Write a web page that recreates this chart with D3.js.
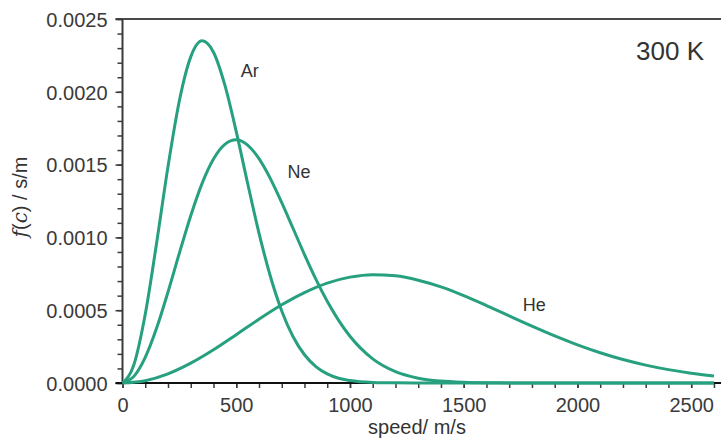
<!DOCTYPE html>
<html lang="en">
<head>
<meta charset="UTF-8">
<title>Maxwell-Boltzmann 300 K</title>
<style>
  body { margin: 0; background: #fff; }
  text { font-family: "Liberation Sans", Arial, Helvetica, sans-serif; fill: #333; }
</style>
</head>
<body>
<div id="chart"></div>
<script src="https://d3js.org/d3.v7.min.js"></script>
<script>
    // values (f(c) in s/m)
    var arSpeed = [0,50,100,150,200,250,300,350,400,450,500,550,600,650,700,750,800,850,900,950,1000,1100,1200,1400,1800,2200,2600];
    var arF = [0,0.000125,0.000472,0.000962,0.001486,0.001939,0.002240,0.002350,0.002272,0.002046,0.001727,0.001372,0.001030,0.000733,0.000495,0.000318,0.000194,0.000113,0.000063,0.000033,0.000017,0.000004,0.000001,0,0,0,0];

    var neSpeed = [0,50,100,150,200,250,300,350,400,450,500,550,600,650,700,750,800,850,900,950,1000,1100,1200,1300,1400,1500,1600,1800,2200,2600];
    var neF = [0,0.0000455,0.000176,0.000377,0.000625,0.000892,0.001149,0.001371,0.001538,0.001639,0.001670,0.001634,0.001541,0.001404,0.001239,0.001061,0.000882,0.000713,0.000561,0.000430,0.000321,0.000166,0.000078,0.000033,0.000013,0.0000046,0.0000015,0,0,0];

    var heSpeed = [0,100,200,300,400,500,600,700,800,900,1000,1100,1200,1300,1400,1500,1600,1700,1800,1900,2000,2100,2200,2300,2400,2500,2600];
    var heF = [0,0.0000161,0.0000629,0.000136,0.000228,0.000332,0.000438,0.000537,0.000621,0.000686,0.000727,0.000744,0.000736,0.000706,0.000660,0.000600,0.000532,0.000461,0.000390,0.000323,0.000262,0.000208,0.000161,0.000123,0.0000918,0.0000672,0.0000483];

    var gasNames = ["Ar", "Ne", "He"];
    var labelAt = [[520, 0.00210], [725, 0.00141], [1760, 0.000495]];
    var xTicks = [0, 500, 1000, 1500, 2000, 2500];
    var yTicks = [0, 0.0005, 0.0010, 0.0015, 0.0020, 0.0025];
    var tempLabel = "300 K";
</script>
<script>
    let W = 721, H = 441;
    let margin = {top: 19, left: 122.5, bottom: 58};
    let green = "#27a07f", axisCol = "#3a3a3a";

    var svg = d3.select("#chart").append("svg")
        .attr("width", W).attr("height", H);

    var x = d3.scaleLinear().domain([0, 2631]).range([margin.left, W]);
    var y = d3.scaleLinear().domain([0, 0.0025]).range([H - margin.bottom, margin.top]);

    // top frame line
    svg.append("line")
        .attr("x1", margin.left - 7).attr("x2", W)
        .attr("y1", y(0.0025)).attr("y2", y(0.0025))
        .attr("stroke", "#4a4a4a").attr("stroke-width", 2);

    // minor ticks
    var yMinor = d3.range(0, 26).map(function(i) {return i * 0.0001;});
    var xMinor = d3.range(0, 27).map(function(i) {return i * 100;});

    svg.append("g").attr("transform", "translate(" + margin.left + ",0)")
        .call(d3.axisLeft(y).tickValues(yMinor).tickSize(5).tickFormat(""))
        .call(function(g) {g.select(".domain").remove();})
        .selectAll("line").attr("stroke", axisCol).attr("stroke-width", 1.5);

    svg.append("g").attr("transform", "translate(0," + y(0) + ")")
        .call(d3.axisBottom(x).tickValues(xMinor).tickSize(5).tickFormat(""))
        .call(function(g) {g.select(".domain").remove();})
        .selectAll("line").attr("stroke", axisCol).attr("stroke-width", 1.5);

    // Y axis
    var yAxis = svg.append("g").attr("transform", "translate(" + margin.left + ",0)")
        .call(d3.axisLeft(y).tickValues(yTicks).tickSize(7).tickPadding(8).tickFormat(d3.format(".4f")));
    yAxis.select(".domain").remove();
    yAxis.selectAll("line").attr("stroke", axisCol).attr("stroke-width", 1.5);
    yAxis.selectAll("text").style("font-size", "20px").style("fill", "#3a3a3a").attr("dy", "0.36em");
    svg.append("line")
        .attr("x1", margin.left).attr("x2", margin.left)
        .attr("y1", y(0.0025)).attr("y2", y(0) + 1)
        .attr("stroke", axisCol).attr("stroke-width", 2);

    // X axis
    var xAxis = svg.append("g").attr("transform", "translate(0," + y(0) + ")")
        .call(d3.axisBottom(x).tickValues(xTicks).tickSize(5).tickPadding(10).tickFormat(d3.format("d")));
    xAxis.select(".domain").remove();
    xAxis.selectAll("line").attr("stroke", axisCol).attr("stroke-width", 1.5);
    xAxis.selectAll("text").style("font-size", "20px").style("fill", "#3a3a3a");
    svg.append("line")
        .attr("x1", margin.left - 7).attr("x2", W)
        .attr("y1", y(0)).attr("y2", y(0))
        .attr("stroke", "#111").attr("stroke-width", 2);

    // curves
    var series = [
        arSpeed.map(function(s, i) {return {c: s, f: arF[i]};}),
        neSpeed.map(function(s, i) {return {c: s, f: neF[i]};}),
        heSpeed.map(function(s, i) {return {c: s, f: heF[i]};})
    ];
    var line = d3.line()
        .x(function(d) {return x(d.c);})
        .y(function(d) {return y(d.f);})
        .curve(d3.curveMonotoneX);

    svg.append("g").selectAll("path").data(series).enter()
        .append("path")
        .attr("d", line)
        .attr("fill", "none")
        .attr("stroke", green)
        .attr("stroke-width", 3)
        .attr("stroke-linejoin", "round");

    // gas labels
    svg.append("g").selectAll("text").data(gasNames).enter()
        .append("text")
        .attr("x", function(d, i) {return x(labelAt[i][0]);})
        .attr("y", function(d, i) {return y(labelAt[i][1]);})
        .style("font-size", "18px")
        .text(function(d) {return d;});

    svg.append("text").attr("x", 704).attr("y", 60)
        .attr("text-anchor", "end")
        .style("font-size", "26px")
        .text(tempLabel);

    // axis titles
    svg.append("text").attr("x", 417).attr("y", 434)
        .attr("text-anchor", "middle")
        .style("font-size", "20px")
        .text("speed/ m/s");

    var yl = svg.append("text")
        .attr("transform", "translate(27,197) rotate(-90)")
        .attr("text-anchor", "middle")
        .style("font-size", "20px");
    yl.append("tspan").style("font-family", "'DejaVu Serif', 'Liberation Serif', serif").style("font-style", "italic").text("f");
    yl.append("tspan").text("(");
    yl.append("tspan").style("font-family", "'DejaVu Serif', 'Liberation Serif', serif").style("font-style", "italic").text("c");
    yl.append("tspan").text(") / s/m");
</script>
</body>
</html>
